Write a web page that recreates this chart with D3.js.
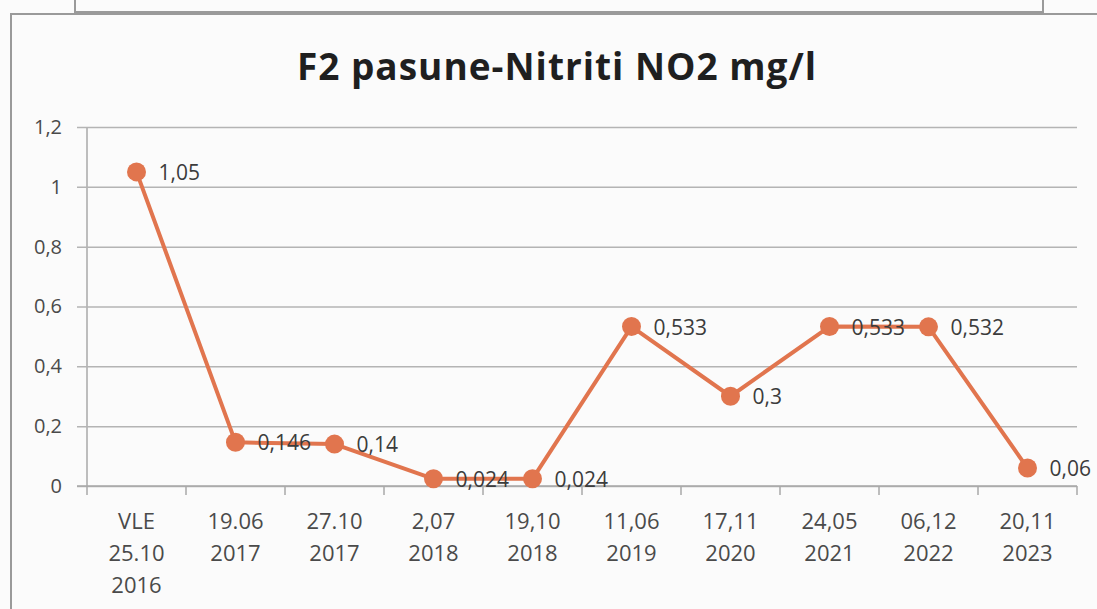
<!DOCTYPE html>
<html>
<head>
<meta charset="utf-8">
<script src="https://cdn.jsdelivr.net/npm/d3@7"></script>
<style>
  html, body { margin: 0; padding: 0; background: #fbfbfb; }
  svg { display: block; }
</style>
</head>
<body>
<svg id="chart" width="1097" height="609"></svg>
<script>
// Sampling dates (two or three label lines each) and nitrite values in mg/l
const categories = [
  ["VLE", "25.10", "2016"],
  ["19.06", "2017"],
  ["27.10", "2017"],
  ["2,07", "2018"],
  ["19,10", "2018"],
  ["11,06", "2019"],
  ["17,11", "2020"],
  ["24,05", "2021"],
  ["06,12", "2022"],
  ["20,11", "2023"]
];
const values = [1.05, 0.146, 0.14, 0.024, 0.024, 0.533, 0.3, 0.533, 0.532, 0.06];
const valueLabels = ["1,05", "0,146", "0,14", "0,024", "0,024", "0,533", "0,3", "0,533", "0,532", "0,06"];
const yTicks = [0, 0.2, 0.4, 0.6, 0.8, 1, 1.2];
const title = "F2 pasune-Nitriti NO2 mg/l";

const svg = d3.select("#chart");
const W = 1097, H = 609;
const font = "'Open Sans', 'DejaVu Sans', sans-serif";
const lineColor = "#e1754e";

// Panel frames
svg.append("rect").attr("x", 0).attr("y", 0).attr("width", W).attr("height", H).attr("fill", "#fbfbfb");
const frame = svg.append("g").attr("stroke", "#9a9a9a").attr("stroke-width", 2).attr("fill", "none");
frame.append("path").attr("d", `M75,0 V12 H1043 V0`);
frame.append("path").attr("d", `M11,${H} V14 H${W}`);

const plot = { left: 87, right: 1077, top: 127, bottom: 486 };

const x = d3.scaleBand()
  .domain(d3.range(categories.length))
  .range([plot.left, plot.right]);
const y = d3.scaleLinear()
  .domain([0, 1.2])
  .range([plot.bottom, plot.top]);

// Title
svg.append("text")
  .attr("x", 557).attr("y", 80)
  .attr("text-anchor", "middle")
  .attr("font-family", font)
  .attr("font-weight", 700)
  .attr("font-size", 37)
  .attr("fill", "#1f1f1f")
  .attr("letter-spacing", 1)
  .text(title);

// Horizontal gridlines with short tick stubs to the left
const yAxis = d3.axisLeft(y)
  .tickValues(yTicks)
  .tickSize(-(plot.right - plot.left))
  .tickFormat(d => d3.format("~g")(d).replace(".", ","));
const gy = svg.append("g")
  .attr("transform", `translate(${plot.left},0)`)
  .call(yAxis);
gy.select(".domain").attr("stroke", "#a8a8a8").attr("stroke-width", 1.5)
  .attr("d", `M0,${plot.bottom} V${plot.top}`);
gy.selectAll(".tick line")
  .attr("x1", -10)
  .attr("stroke", "#b4b4b4").attr("stroke-width", 1.5);
gy.selectAll(".tick text")
  .attr("font-family", font).attr("font-size", 20).attr("fill", "#4a4a4a")
  .attr("x", -25);

// Category axis along zero
const xAxis = d3.axisBottom(x).tickSize(0).tickFormat(() => "");
const gx = svg.append("g")
  .attr("transform", `translate(0,${plot.bottom})`)
  .call(xAxis);
gx.select(".domain").attr("stroke", "#a8a8a8").attr("stroke-width", 1.5)
  .attr("d", `M${plot.left - 10},0 H${plot.right}`);
// Tick marks between categories
gx.selectAll("line.sep")
  .data(d3.range(categories.length + 1))
  .join("line")
  .attr("class", "sep")
  .attr("x1", i => plot.left + i * x.step())
  .attr("x2", i => plot.left + i * x.step())
  .attr("y1", 0).attr("y2", 9)
  .attr("stroke", "#a8a8a8").attr("stroke-width", 1.5);

// Multi-line category labels
const catLabels = svg.append("g")
  .attr("font-family", font).attr("font-size", 22).attr("fill", "#4a4a4a")
  .attr("text-anchor", "middle");
categories.forEach((lines, i) => {
  const t = catLabels.append("text")
    .attr("x", x(i) + x.bandwidth() / 2)
    .attr("y", 529);
  lines.forEach((ln, j) => {
    t.append("tspan")
      .attr("x", x(i) + x.bandwidth() / 2)
      .attr("dy", j === 0 ? 0 : 32)
      .text(ln);
  });
});

// Series line
const cx = i => x(i) + x.bandwidth() / 2;
const line = d3.line().x((d, i) => cx(i)).y(d => y(d));
svg.append("path")
  .datum(values)
  .attr("d", line)
  .attr("fill", "none")
  .attr("stroke", lineColor)
  .attr("stroke-width", 4)
  .attr("stroke-linejoin", "round");

// Markers
svg.append("g").selectAll("circle")
  .data(values)
  .join("circle")
  .attr("cx", (d, i) => cx(i))
  .attr("cy", d => y(d))
  .attr("r", 9.5)
  .attr("fill", lineColor);

// Value labels to the right of each marker
svg.append("g").selectAll("text")
  .data(values)
  .join("text")
  .attr("x", (d, i) => cx(i) + 22)
  .attr("y", d => y(d) + 8)
  .attr("font-family", font).attr("font-size", 21).attr("fill", "#3c3c3c")
  .text((d, i) => valueLabels[i]);
</script>
</body>
</html>
